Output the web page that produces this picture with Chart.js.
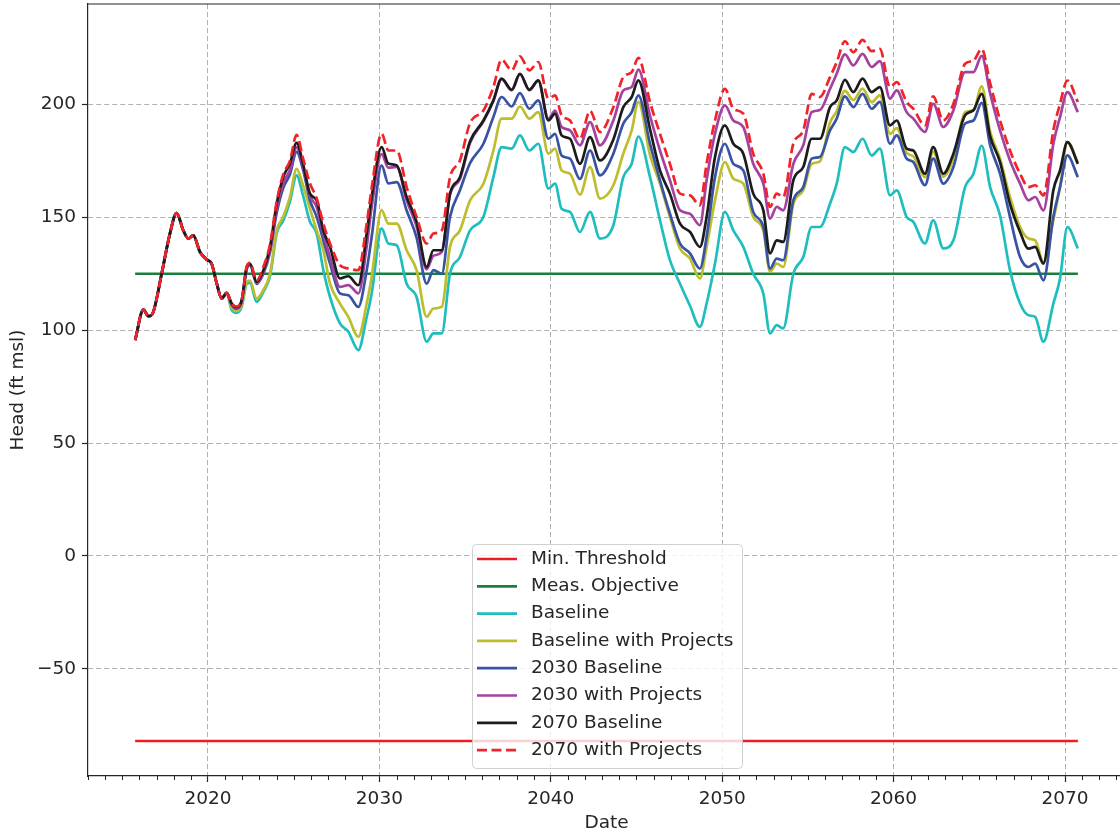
<!DOCTYPE html>
<html>
<head>
<meta charset="utf-8">
<script src="https://cdn.jsdelivr.net/npm/chart.js@4.4.1/dist/chart.umd.min.js"></script>
<style>
  html, body { margin: 0; padding: 0; background: #fff; overflow: hidden; }
  #wrap { width: 1130px; height: 835px; }
</style>
</head>
<body>
<div id="wrap"><canvas id="grafico" width="1130" height="835"></canvas></div>
<script>
// anos (fração do ano)
const years = [
  2015.75, 2016.23, 2016.52, 2016.81, 2017.30, 2017.78, 2018.17, 2018.56, 2018.85, 2019.14, 2019.53, 2019.92, 2020.21, 2020.51, 2020.80, 2021.09,
  2021.38, 2021.67, 2021.97, 2022.26, 2022.45, 2022.84, 2023.23, 2023.62, 2024.01, 2024.39, 2024.78, 2025.17, 2025.55, 2025.95, 2026.34, 2026.73, 2027.12, 2027.70, 2028.19, 2028.77,
  2029.26, 2029.55, 2030.13, 2030.52, 2031.01, 2031.59, 2032.17, 2032.76, 2033.15, 2033.64, 2034.12, 2034.70, 2035.29, 2036.07, 2036.65, 2037.13, 2037.72, 2038.20, 2038.75, 2039.27,
  2039.86, 2040.25, 2040.63, 2041.12, 2041.70, 2042.29, 2042.87, 2043.65, 2044.23, 2044.72, 2045.11, 2045.79, 2046.37, 2046.95, 2047.54, 2048.12, 2048.70, 2049.09, 2049.58, 2050.16,
  2050.65, 2051.23, 2051.81, 2052.40, 2052.79, 2053.18, 2053.56, 2054.15, 2054.73, 2055.22, 2055.70, 2056.29, 2056.68, 2057.16, 2057.65, 2058.19, 2058.72, 2059.20, 2059.79, 2060.18,
  2060.76, 2061.15, 2061.83, 2062.31, 2062.90, 2063.49, 2064.17, 2064.66, 2065.14, 2065.63, 2066.21, 2066.79, 2067.38, 2067.87, 2068.26, 2068.74, 2069.32, 2069.71, 2070.14, 2070.75
];

const minThreshold = -82;
const measObjective = 125;

const baseline = [
  95.6, 109.1, 106.2, 108.1, 125.1, 142.8, 151.9, 144.2, 140.6, 142.0, 134.7, 131.3, 129.5, 120.7, 114.0, 116.5,
  109.0, 107.7, 110.5, 120.5, 121.0, 112.5, 117.0, 124.0, 143.0, 148.5, 157.0, 168.6, 159.5, 148.0, 142.8, 126.6, 114.7, 103.0, 99.3, 91.2,
  105.9, 116.2, 145.1, 138.4, 137.6, 120.6, 114.7, 94.9, 98.6, 98.6, 125.0, 132.4, 144.2, 150.2, 167.8, 181.1, 180.4, 186.3, 179.6, 182.6,
  162.7, 164.9, 153.8, 152.4, 143.5, 152.4, 140.6, 146.5, 167.8, 173.7, 185.8, 167.8, 148.7, 131.0, 120.6, 110.8, 101.5, 111.8, 129.5, 152.4,
  144.2, 136.9, 125.0, 116.2, 98.6, 102.2, 100.8, 125.0, 132.4, 145.7, 145.7, 156.0, 164.9, 181.1, 178.9, 184.8, 177.4, 180.4, 159.7, 161.9,
  150.2, 148.0, 138.4, 148.7, 136.2, 139.8, 163.4, 169.3, 181.7, 163.4, 150.8, 126.6, 111.8, 106.6, 105.9, 94.9, 111.8, 122.9, 145.7, 136.2
];

const baselineProjects = [
  95.6, 109.1, 106.2, 108.1, 125.1, 142.8, 151.9, 144.2, 140.6, 142.0, 134.7, 131.3, 129.5, 120.7, 114.0, 116.5,
  110.0, 108.5, 111.5, 121.4, 122.0, 114.0, 117.8, 125.1, 144.2, 150.2, 159.0, 171.5, 164.0, 153.8, 144.2, 135.4, 120.6, 111.8, 105.9, 97.1,
  111.8, 123.6, 153.2, 147.2, 147.2, 135.4, 126.6, 105.9, 109.6, 110.3, 136.9, 144.2, 157.5, 164.9, 179.6, 193.7, 193.7, 199.1, 193.7, 196.6,
  178.2, 180.4, 170.8, 169.3, 160.0, 172.3, 158.3, 164.2, 178.2, 188.5, 201.1, 177.5, 164.9, 150.2, 136.2, 131.7, 122.9, 136.9, 157.5, 174.5,
  167.1, 164.9, 150.2, 144.2, 125.9, 129.5, 128.0, 156.0, 162.0, 173.7, 174.8, 192.0, 197.0, 206.0, 202.0, 207.0, 201.0, 204.0, 187.0, 189.5,
  178.5, 177.0, 167.8, 179.0, 168.0, 176.0, 196.6, 197.4, 208.0, 188.0, 176.0, 159.0, 145.7, 140.6, 139.8, 130.2, 148.7, 163.4, 183.3, 174.5
];

const baseline2030 = [
  95.6, 109.1, 106.2, 108.1, 125.1, 142.8, 151.9, 144.2, 140.6, 142.0, 134.7, 131.3, 129.5, 120.7, 114.0, 116.5,
  111.3, 109.5, 112.8, 127.0, 128.8, 120.5, 125.0, 134.5, 152.0, 163.0, 169.0, 179.0, 171.0, 157.5, 150.2, 139.8, 129.5, 116.3, 115.5, 110.3,
  126.6, 141.3, 173.0, 165.0, 165.6, 153.0, 141.0, 120.6, 126.6, 125.0, 150.2, 162.0, 174.0, 182.6, 194.4, 203.3, 199.1, 205.0, 198.1, 201.8,
  184.8, 187.0, 177.4, 176.0, 167.0, 179.6, 168.6, 178.2, 191.5, 196.6, 204.0, 182.5, 166.4, 151.6, 138.4, 134.0, 127.3, 141.3, 167.8, 182.6,
  173.7, 170.8, 152.4, 145.7, 127.3, 131.7, 131.0, 157.5, 163.4, 176.0, 176.7, 188.5, 193.7, 203.6, 198.8, 204.7, 198.1, 201.1, 182.6, 186.3,
  176.0, 174.5, 164.2, 176.0, 164.9, 172.3, 191.5, 192.9, 200.7, 182.0, 169.3, 150.2, 132.4, 128.0, 129.5, 122.1, 150.2, 163.4, 177.4, 167.8
];

const projects2030 = [
  95.6, 109.1, 106.2, 108.1, 125.1, 142.8, 151.9, 144.2, 140.6, 142.0, 134.7, 131.3, 129.5, 120.7, 114.0, 116.5,
  111.6, 110.0, 113.1, 127.5, 129.2, 121.0, 125.5, 135.5, 154.0, 165.0, 171.0, 181.0, 172.5, 159.5, 154.6, 142.8, 132.4, 119.2, 120.0, 116.3,
  137.0, 154.6, 178.0, 172.0, 172.3, 157.5, 146.0, 127.0, 133.0, 134.7, 160.0, 167.0, 183.0, 192.5, 201.5, 211.2, 206.3, 213.4, 206.3, 210.5,
  193.7, 197.3, 190.0, 188.5, 181.9, 192.2, 181.9, 192.9, 206.2, 207.7, 215.4, 195.0, 179.6, 166.4, 153.1, 151.6, 146.5, 166.4, 187.0, 199.6,
  192.9, 190.0, 173.7, 164.9, 149.4, 154.6, 153.1, 173.7, 181.9, 196.6, 197.5, 206.9, 213.6, 222.2, 217.3, 222.4, 216.6, 219.2, 202.6, 206.2,
  196.6, 193.7, 187.8, 200.3, 190.0, 197.4, 214.3, 214.3, 221.5, 205.0, 188.5, 175.2, 164.9, 157.5, 159.0, 153.1, 182.6, 194.4, 205.5, 196.6
];

const baseline2070 = [
  95.6, 109.1, 106.2, 108.1, 125.1, 142.8, 151.9, 144.2, 140.6, 142.0, 134.7, 131.3, 129.5, 120.7, 114.0, 116.5,
  111.8, 110.3, 113.3, 128.0, 129.5, 121.4, 126.5, 136.9, 156.0, 167.8, 173.8, 183.0, 173.5, 160.5, 157.5, 144.2, 136.9, 122.9, 123.9, 119.9,
  142.8, 159.0, 181.1, 173.8, 173.0, 159.0, 148.0, 128.0, 135.4, 135.4, 160.5, 167.8, 183.7, 192.9, 201.8, 211.4, 206.5, 213.6, 206.5, 210.7,
  192.9, 195.9, 186.3, 184.8, 173.7, 185.5, 175.2, 184.5, 198.8, 203.3, 210.7, 189.0, 170.8, 160.5, 147.2, 143.5, 136.9, 150.2, 176.7, 190.7,
  182.6, 178.2, 160.5, 153.1, 134.0, 139.8, 139.1, 166.4, 172.3, 184.8, 184.8, 198.8, 201.8, 210.9, 205.5, 211.4, 205.5, 207.7, 190.7, 192.9,
  180.4, 179.6, 169.3, 181.1, 169.3, 178.2, 195.2, 197.4, 204.7, 186.0, 174.5, 156.0, 143.5, 136.1, 136.9, 129.5, 162.0, 170.8, 183.3, 173.7
];

const projects2070 = [
  95.6, 109.1, 106.2, 108.1, 125.1, 142.8, 151.9, 144.2, 140.6, 142.0, 134.7, 131.3, 129.5, 120.7, 114.0, 116.5,
  111.8, 110.5, 113.5, 128.2, 129.8, 122.0, 128.0, 138.0, 157.0, 169.0, 175.0, 186.5, 176.0, 165.0, 158.5, 147.2, 138.4, 128.8, 127.3, 126.6,
  147.2, 163.0, 187.0, 179.6, 179.6, 163.4, 150.2, 138.4, 142.8, 144.2, 167.8, 175.2, 191.8, 197.3, 207.7, 219.8, 215.1, 221.3, 215.1, 218.8,
  202.6, 204.0, 195.2, 192.9, 184.8, 197.1, 187.8, 198.8, 212.1, 214.3, 220.6, 201.0, 187.0, 173.7, 160.5, 159.7, 155.3, 173.7, 192.9, 206.9,
  198.1, 195.9, 178.2, 169.3, 154.6, 160.5, 159.0, 182.6, 188.5, 204.7, 203.3, 212.1, 218.7, 228.0, 223.1, 228.6, 223.6, 224.6, 207.7, 209.9,
  201.1, 198.1, 190.7, 203.6, 192.9, 200.3, 218.0, 219.4, 224.6, 209.5, 193.0, 179.6, 169.3, 163.4, 164.2, 159.7, 188.5, 200.3, 210.6, 201.1
];

const xTicks = [2020, 2030, 2040, 2050, 2060, 2070];
const yTicks = [-50, 0, 50, 100, 150, 200];

const TEXTO = '#262626';
const FONTE = '"DejaVu Sans", sans-serif';
Chart.defaults.font.family = FONTE;
Chart.defaults.font.size = 18.5;
Chart.defaults.color = TEXTO;

const pontos = (vals) => years.map((x, i) => ({ x: x, y: vals[i] }));
const linhaConstante = (v) => [{ x: years[0], y: v }, { x: years[years.length - 1], y: v }];

const series = [
  { label: 'Min. Threshold', data: linhaConstante(minThreshold), borderColor: '#ee1d25' },
  { label: 'Meas. Objective', data: linhaConstante(measObjective), borderColor: '#18803c' },
  { label: 'Baseline', data: pontos(baseline), borderColor: '#1fbdbd' },
  { label: 'Baseline with Projects', data: pontos(baselineProjects), borderColor: '#bdbd2e' },
  { label: '2030 Baseline', data: pontos(baseline2030), borderColor: '#3853a4' },
  { label: '2030 with Projects', data: pontos(projects2030), borderColor: '#a5429f' },
  { label: '2070 Baseline', data: pontos(baseline2070), borderColor: '#1c1c1c' },
  { label: '2070 with Projects', data: pontos(projects2070), borderColor: '#f0232a', borderDash: [10, 4.5] }
];

const datasets = series.map((s, i) => Object.assign({
  borderWidth: 2.7,
  pointRadius: 0,
  fill: false,
  cubicInterpolationMode: 'monotone',
  order: series.length - 1 - i
}, s));

// moldura de cima/direita, ticks menores (um por ano) e rótulos do eixo x
const molduraPlugin = {
  id: 'moldura',
  afterDraw(chart) {
    const { ctx, chartArea: a, scales: { x } } = chart;
    ctx.save();
    ctx.strokeStyle = TEXTO;
    ctx.lineWidth = 1.2;
    ctx.beginPath();
    ctx.moveTo(a.left, a.top);
    ctx.lineTo(a.right, a.top);
    ctx.lineTo(a.right, a.bottom);
    ctx.stroke();
    ctx.lineWidth = 1;
    ctx.beginPath();
    for (let ano = Math.ceil(x.min); ano <= x.max; ano++) {
      if (ano % 10 === 0) continue;
      const px = Math.round(x.getPixelForValue(ano)) + 0.5;
      ctx.moveTo(px, a.bottom);
      ctx.lineTo(px, a.bottom + 4);
    }
    ctx.stroke();
    ctx.font = '18.5px ' + FONTE;
    ctx.fillStyle = TEXTO;
    ctx.textAlign = 'center';
    ctx.textBaseline = 'alphabetic';
    xTicks.forEach(v => {
      ctx.fillText(String(v), x.getPixelForValue(v), a.bottom + 28);
    });
    ctx.restore();
  }
};

// legenda dentro da área do gráfico, como no matplotlib
const legendaPlugin = {
  id: 'legenda',
  afterDraw(chart) {
    const ctx = chart.ctx;
    const caixa = { x: 472, y: 544, w: 270, h: 224 };
    ctx.save();
    ctx.beginPath();
    ctx.roundRect(caixa.x + 0.5, caixa.y + 0.5, caixa.w, caixa.h, 4);
    ctx.fillStyle = 'rgba(255,255,255,0.8)';
    ctx.fill();
    ctx.strokeStyle = 'rgba(204,204,204,0.9)';
    ctx.lineWidth = 1;
    ctx.stroke();
    ctx.font = '18.5px ' + FONTE;
    ctx.textBaseline = 'middle';
    chart.data.datasets.forEach((ds, i) => {
      const y = caixa.y + 15 + i * 27.3;
      ctx.beginPath();
      ctx.setLineDash(ds.borderDash || []);
      ctx.strokeStyle = ds.borderColor;
      ctx.lineWidth = ds.borderWidth;
      ctx.moveTo(caixa.x + 5, y);
      ctx.lineTo(caixa.x + 45, y);
      ctx.stroke();
      ctx.setLineDash([]);
      ctx.fillStyle = TEXTO;
      ctx.fillText(ds.label, caixa.x + 59, y);
    });
    ctx.restore();
  }
};

new Chart(document.getElementById('grafico'), {
  type: 'line',
  data: { datasets: datasets },
  plugins: [molduraPlugin, legendaPlugin],
  options: {
    responsive: false,
    animation: false,
    devicePixelRatio: 1,
    layout: { padding: { top: 4, right: 5, left: 0, bottom: 0 } },
    plugins: { legend: { display: false }, tooltip: { enabled: false } },
    scales: {
      x: {
        type: 'linear',
        min: 2013,
        max: 2073.5,
        afterBuildTicks: (s) => { s.ticks = xTicks.map(v => ({ value: v })); },
        afterFit: (s) => { s.height = 59; s.paddingLeft = 0; s.paddingRight = 0; },
        ticks: { display: false },
        grid: { color: '#b0b0b0', lineWidth: 1, tickLength: 6, tickColor: TEXTO, tickWidth: 1.2, tickBorderDash: [] },
        border: { display: true, color: TEXTO, width: 1.2, dash: [5, 3] },
        title: { display: true, text: 'Date', padding: { top: 0, bottom: 1 }, color: TEXTO }
      },
      y: {
        type: 'linear',
        min: -97.5,
        max: 244.5,
        afterBuildTicks: (s) => { s.ticks = yTicks.map(v => ({ value: v })); },
        afterFit: (s) => { s.width = 88; s.paddingTop = 0; s.paddingBottom = 0; },
        ticks: { callback: (v) => (v < 0 ? '\u2212' + Math.abs(v) : String(v)), padding: 6, color: TEXTO },
        grid: { color: '#b0b0b0', lineWidth: 1, tickLength: 6, tickColor: TEXTO, tickWidth: 1.2, tickBorderDash: [] },
        border: { display: true, color: TEXTO, width: 1.2, dash: [5, 3] },
        title: { display: true, text: 'Head (ft msl)', padding: { top: 7, bottom: 0 }, color: TEXTO }
      }
    }
  }
});
</script>
</body>
</html>
